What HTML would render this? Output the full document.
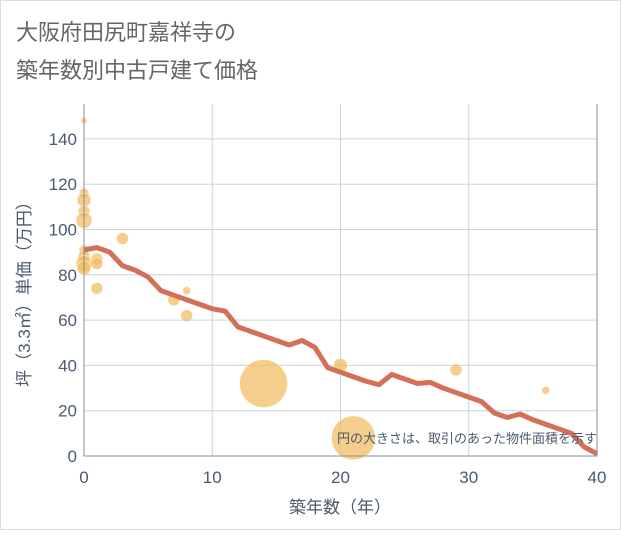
<!DOCTYPE html>
<html><head><meta charset="utf-8">
<style>
body{margin:0;background:#fff;}
#wrap{width:621px;height:530px;position:relative;background:#fff;font-family:"Liberation Sans","Noto Sans CJK JP",sans-serif;}
</style></head>
<body>
<div id="wrap">
<svg id="c" width="621" height="530">
<rect x="0.5" y="0.5" width="620" height="529" fill="#fff" stroke="#ddd"/>
<text x="16" y="40" font-size="22" fill="#666">大阪府田尻町嘉祥寺の</text>
<text x="16" y="78" font-size="22" fill="#666">築年数別中古戸建て価格</text>
<g id="grid"></g><g id="bubbles"></g><g id="line"></g><g id="axes"></g>
<text x="597" y="443" font-size="13" fill="#4a5a70" text-anchor="end">円の大きさは、取引のあった物件面積を示す</text>
<text x="340" y="513" font-size="17" fill="#4a5a70" text-anchor="middle">築年数（年）</text>
<text transform="translate(30,290) rotate(-90)" font-size="17" fill="#4a5a70" text-anchor="middle">坪（3.3㎡）単価（万円）</text>
</svg>
</div>
<script>
const xTicks=[0,10,20,30,40];
const yTicks=[0,20,40,60,80,100,120,140];
const lineX=[0,1,2,3,4,5,6,7,8,9,10,11,12,13,14,15,16,17,18,19,20,21,22,23,24,25,26,27,28,29,30,31,32,33,34,35,36,37,38,39,40];
const lineY=[91,92,90,84,82,79,73,71,69,67,65,64,57,55,53,51,49,51,48,39,37,35,33,31.5,36,34,32,32.5,30,28,26,24,19,17,18.5,16,14,12,10,4,1];
const bubX=[0,0,0,0,0,0,0,0,0,1,1,3,1,7,8,8,14,20,21,29,36];
const bubY=[148,116,113,108,104,91,88,85,83,87,85,96,74,69,73,62,32,40,8,38,29];
const bubR=[3,5,7,6,8,5,6,8,7,6,6,6,6,6,4,6,24,7,22,6,4];
const X0=84,X1=597,Y0=456,YT=104;
const sx=v=>X0+(X1-X0)*v/40;
const sy=v=>Y0-v*2.265;
const ns="http://www.w3.org/2000/svg";
function mk(p,t,a){const e=document.createElementNS(ns,t);for(const k in a)e.setAttribute(k,a[k]);document.getElementById(p).appendChild(e);return e;}
xTicks.forEach(t=>{
 if(t>0&&t<40){const l=mk('grid','line',{x1:sx(t),x2:sx(t),y1:YT,y2:Y0,stroke:'#c8d4e0'});
 
 }
 const tx=mk('axes','text',{x:sx(t),y:483,'font-size':17,fill:'#4a5a70','text-anchor':'middle'});tx.textContent=t;
 
 
});
yTicks.forEach(t=>{
 if(t>0){const l=mk('grid','line',{x1:X0,x2:X1,y1:sy(t),y2:sy(t),stroke:'#c8d4e0'});
 
 }
 const tx=mk('axes','text',{x:77,y:sy(t)+6,'font-size':17,fill:'#4a5a70','text-anchor':'end'});tx.textContent=t;
 
 
});
const ax=mk('axes','path',{d:`M${X0},${YT}V${Y0}H${X1}V${YT}`,fill:'none',stroke:'#8a8f99'});


bubX.forEach((v,i)=>{
 const c=mk('bubbles','circle',{cx:sx(v),cy:sy(bubY[i]),r:bubR[i],fill:'#f2b95a','fill-opacity':0.7,stroke:'#fff','stroke-opacity':0.5});
 
 
});
const pl=mk('line','polyline',{points:lineX.map((v,i)=>sx(v)+','+sy(lineY[i])).join(' '),fill:'none',stroke:'#d4705a','stroke-width':5,'stroke-linejoin':'round'});


</script>
</body></html>
